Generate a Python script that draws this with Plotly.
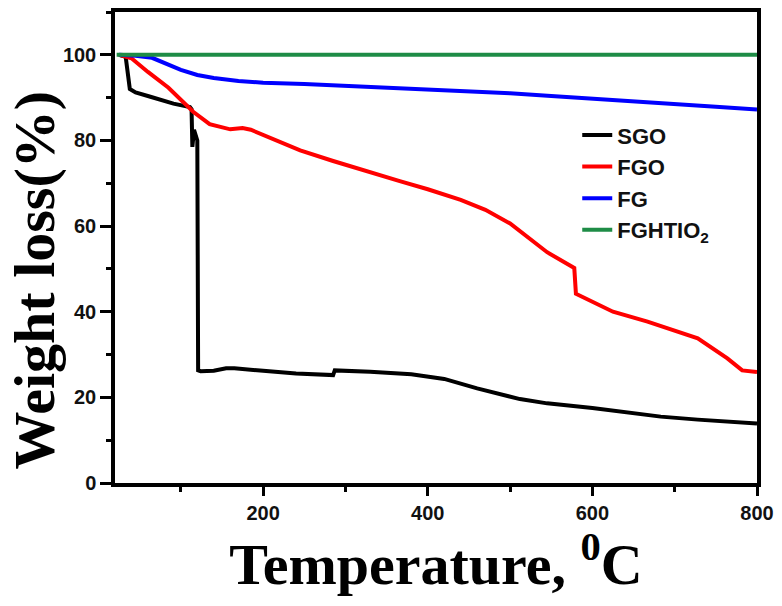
import plotly.graph_objects as go

# ---- data ----
sgo_t = [25, 33, 38, 45, 63, 91, 111, 113, 114, 116, 120, 121, 124, 140, 155, 165, 200, 240, 285, 287,
         330, 380, 420, 460, 512, 545, 600, 625, 683, 728, 770, 800]
sgo_w = [100, 99.5, 92, 91.2, 90.2, 88.6, 87.8, 87.3, 78.5, 82.5, 80, 26.3, 26.1, 26.2, 26.8, 26.8, 26.2,
         25.6, 25.2, 26.3, 26.0, 25.4, 24.3, 22.1, 19.6, 18.6, 17.5, 16.9, 15.5, 14.8, 14.3, 13.9]

fgo_t = [25, 40, 60, 85, 115, 135, 160, 175, 185, 205, 245, 285, 325, 366, 400, 440, 470, 500, 545,
         578, 580, 600, 625, 667, 700, 728, 764, 782, 800]
fgo_w = [100, 99.2, 96, 92.3, 86.7, 83.8, 82.6, 82.9, 82.5, 80.9, 77.7, 75.2, 72.8, 70.5, 68.6, 66.1,
         63.8, 60.6, 53.9, 50.2, 44.2, 42.3, 40.0, 37.7, 35.6, 33.8, 29.1, 26.3, 25.9]

fg_t = [25, 45, 65, 80, 100, 120, 140, 170, 200, 250, 300, 350, 400, 450, 500, 550, 600, 650, 700, 750, 800]
fg_w = [100, 99.8, 99.3, 98.2, 96.5, 95.3, 94.6, 93.9, 93.5, 93.2, 92.8, 92.4, 92.0, 91.6, 91.0, 90.4,
        89.8, 89.3, 88.6, 87.9, 87.2]

fgh_t = [22, 200, 400, 600, 800]
fgh_w = [100, 100, 100, 100, 100]

series = [
    ("SGO", sgo_t, sgo_w, "#000000"),
    ("FGO", fgo_t, fgo_w, "#ff0000"),
    ("FG", fg_t, fg_w, "#0000ff"),
    ("FGHTIO<sub>2</sub>", fgh_t, fgh_w, "#1e8c46"),
]

fig = go.Figure()
for name, t, w, c in series:
    fig.add_trace(go.Scatter(x=t, y=w, mode="lines", name=name,
                             line=dict(color=c, width=4)))

tickfont = dict(family="Liberation Sans", size=20, color="#111", weight="bold")

fig.update_layout(
    width=782, height=606,
    margin=dict(l=115, r=25, t=8, b=123),
    paper_bgcolor="white", plot_bgcolor="white",
    showlegend=True,
    legend=dict(x=0.72, y=0.783, xanchor="left", yanchor="top",
                bgcolor="rgba(0,0,0,0)",
                font=dict(family="Liberation Sans", size=22, color="#111", weight="bold"),
                tracegroupgap=0, itemwidth=30),
    xaxis=dict(range=[20, 800], tick0=0, dtick=200, ticks="outside", ticklen=9, tickwidth=3,
               tickcolor="black", showline=True, linecolor="black", linewidth=3.5, mirror=True,
               showgrid=False, zeroline=False, tickfont=tickfont,
               minor=dict(dtick=100, ticks="outside", ticklen=5, tickwidth=3, tickcolor="black",
                          showgrid=False),
               title=dict(text="Temperature, <sup>0</sup>C", standoff=18,
                          font=dict(family="Liberation Serif", size=58, color="black", weight="bold"))),
    yaxis=dict(range=[0, 110], tick0=0, dtick=20, ticks="outside", ticklen=11, tickwidth=3,
               tickcolor="black", showline=True, linecolor="black", linewidth=3.5, mirror=True,
               showgrid=False, zeroline=False, tickfont=tickfont,
               minor=dict(dtick=10, ticks="outside", ticklen=5, tickwidth=3, tickcolor="black",
                          showgrid=False)),
    annotations=[dict(text="Weight loss(%)", textangle=-90, xref="paper", yref="paper",
                      x=-0.126, y=0.43, xanchor="center", yanchor="middle", showarrow=False,
                      font=dict(family="Liberation Serif", size=58, color="black", weight="bold"))],
)

fig.write_html("out.html", config={"displayModeBar": False},
               post_script="document.body.style.margin='0px';")
